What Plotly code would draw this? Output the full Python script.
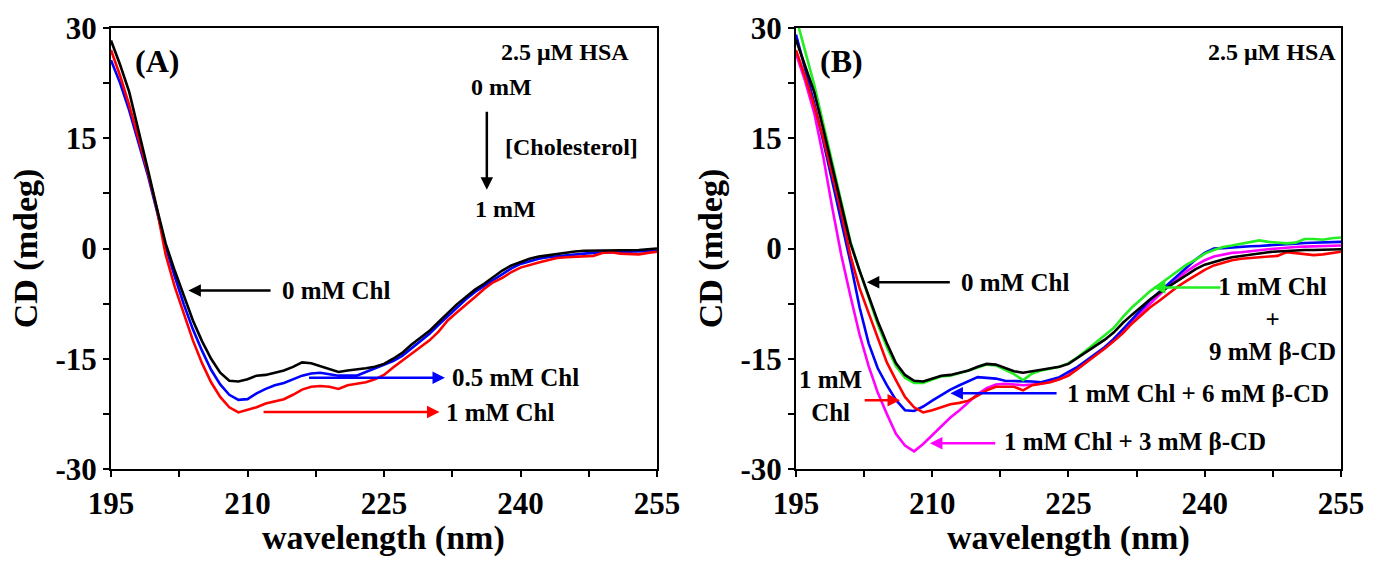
import plotly.graph_objects as go

# ---------------- data ----------------
wavelength = list(range(195, 256))

# Panel A
a_0mM = [28.3, 25.0, 21.3, 16.3, 11.0, 5.7, 0.7, -3.0, -6.5, -9.8,
         -12.6, -15.0, -16.9, -18.0, -18.1, -17.8, -17.3, -17.2, -16.9, -16.6,
         -16.1, -15.5, -15.6, -16.0, -16.5, -16.8, -16.6, -16.5, -16.3, -16.1,
         -15.7, -15.0, -14.2, -13.1, -12.2, -11.2, -10.0, -8.8, -7.6, -6.6,
         -5.6, -4.8, -3.9, -3.0, -2.3, -1.8, -1.4, -1.1, -0.9, -0.75,
         -0.55, -0.4, -0.3, -0.3, -0.3, -0.3, -0.3, -0.3, -0.2, -0.1, 0.0]
a_05mM = [25.6, 22.5, 18.8, 14.5, 10.2, 5.3, 0.3, -3.8, -7.6, -11.0,
          -13.9, -16.5, -18.5, -19.9, -20.6, -20.5, -19.7, -19.1, -18.6, -18.3,
          -17.8, -17.3, -17.0, -16.9, -17.1, -17.3, -17.3, -17.3, -16.8, -16.3,
          -15.9, -15.3, -14.6, -13.6, -12.7, -11.6, -10.4, -9.2, -8.0, -6.9,
          -5.9, -5.1, -4.3, -3.5, -2.7, -2.1, -1.7, -1.4, -1.2, -1.1,
          -0.9, -0.8, -0.7, -0.6, -0.55, -0.5, -0.45, -0.4, -0.35, -0.3, -0.3]
a_1mM = [27.0, 23.5, 19.5, 15.2, 10.6, 5.6, -0.8, -5.2, -9.0, -12.5,
         -15.6, -18.2, -20.2, -21.6, -22.3, -22.0, -21.6, -21.1, -20.8, -20.5,
         -19.9, -19.2, -18.8, -18.7, -18.8, -19.1, -18.6, -18.4, -18.2, -17.8,
         -17.2, -16.2, -15.3, -14.3, -13.5, -12.5, -11.3, -9.8, -8.7, -7.7,
         -6.6, -5.5, -4.6, -4.0, -3.2, -2.6, -2.2, -1.9, -1.6, -1.3,
         -1.2, -1.15, -1.1, -1.0, -0.6, -0.5, -0.7, -0.8, -0.8, -0.6, -0.45]

# Panel B
b_0mM = [28.4, 25.0, 21.3, 16.3, 11.0, 5.7, 0.7, -3.0, -6.6, -9.9,
         -12.9, -15.6, -17.2, -18.0, -18.1, -17.7, -17.3, -17.2, -16.9, -16.6,
         -16.1, -15.7, -15.8, -16.3, -16.7, -16.9, -16.7, -16.5, -16.3, -16.1,
         -15.7, -14.9, -14.1, -13.2, -12.4, -11.4, -10.1, -9.0, -7.9, -6.9,
         -6.0, -5.2, -4.3, -3.6, -2.8, -2.2, -1.8, -1.5, -1.2, -1.0,
         -0.8, -0.6, -0.5, -0.4, -0.3, -0.3, -0.2, -0.2, -0.15, -0.1, -0.1]
b_1mM = [27.0, 23.4, 19.4, 15.0, 10.0, 4.8, -1.0, -5.4, -8.8, -12.3,
         -15.5, -17.9, -20.2, -21.6, -22.3, -22.0, -21.6, -21.2, -21.0, -20.7,
         -20.0, -19.3, -18.8, -18.8, -18.8, -19.3, -18.6, -18.4, -18.2, -17.8,
         -17.3, -16.4, -15.5, -14.6, -13.6, -12.6, -11.5, -10.2, -9.1, -8.0,
         -7.1, -6.1, -5.2, -4.4, -3.6, -2.9, -2.3, -1.9, -1.6, -1.4,
         -1.3, -1.25, -1.2, -1.0, -0.5, -0.6, -0.8, -0.9, -0.8, -0.6, -0.45]
b_1mM_3CD = [26.5, 22.8, 18.5, 12.5, 5.5, -1.0, -6.5, -11.7, -16.0, -19.6,
             -22.5, -25.2, -26.8, -27.6, -26.6, -25.4, -24.2, -23.0, -22.0, -20.9,
             -19.8, -19.0, -18.5, -18.4, -18.5, -18.6, -18.5, -18.4, -18.1, -17.8,
             -17.2, -16.4, -15.4, -14.5, -13.5, -12.3, -11.1, -9.9, -8.6, -7.4,
             -6.2, -5.1, -4.1, -3.1, -2.3, -1.6, -1.1, -0.8, -0.6, -0.5,
             -0.35, -0.25, -0.1, 0.0, 0.15, 0.2, 0.25, 0.3, 0.35, 0.4, 0.4]
b_1mM_6CD = [29.1, 24.6, 19.8, 14.6, 9.0, 3.5, -1.9, -8.0, -12.9, -16.3,
             -18.6, -20.6, -22.0, -22.1, -21.5, -20.7, -19.9, -19.2, -18.6, -18.1,
             -17.5, -17.6, -17.7, -18.0, -18.0, -18.0, -18.1, -18.2, -17.8, -17.5,
             -16.8, -16.1, -15.2, -14.3, -13.4, -12.3, -11.0, -9.7, -8.3, -7.0,
             -5.9, -4.8, -3.8, -2.6, -1.5, -0.6, 0.0, 0.05, 0.1, 0.2,
             0.3, 0.35, 0.45, 0.5, 0.55, 0.65, 0.75, 0.8, 0.85, 0.9, 0.9]
b_1mM_9CD = [31.5, 27.0, 22.3, 17.0, 11.5, 6.0, 0.9, -3.0, -6.8, -10.3,
             -13.4, -16.0, -17.6, -18.3, -18.3, -17.9, -17.4, -17.3, -17.0, -16.6,
             -16.2, -15.8, -15.9, -16.5, -17.1, -17.9, -17.0, -16.6, -16.4, -16.1,
             -15.6, -14.8, -13.8, -12.8, -11.7, -10.8, -9.3, -8.0, -6.9, -5.8,
             -4.9, -4.0, -3.1, -2.2, -1.5, -0.7, -0.2, 0.2, 0.4, 0.6,
             0.9, 1.1, 0.9, 0.75, 0.7, 0.8, 1.3, 1.3, 1.2, 1.4, 1.5]

x_tickvals = [195, 202.5, 210, 217.5, 225, 232.5, 240, 247.5, 255]
x_ticktext = ["195", "", "210", "", "225", "", "240", "", "255"]
y_tickvals = [-30, -22.5, -15, -7.5, 0, 7.5, 15, 22.5, 30]
y_ticktext = ["-30", "", "-15", "", "0", "", "15", "", "30"]

# ---------------- style ----------------
FONT = "Liberation Serif"
BLACK, RED, BLUE, GREEN, MAGENTA = "#000000", "#ff0000", "#0000ff", "#22ee22", "#ff00ff"
LW = 2.6

fig = go.Figure()

def add(x, y, color, xa, ya, name):
    fig.add_trace(go.Scatter(x=x, y=y, mode="lines", name=name,
                             line=dict(color=color, width=LW),
                             xaxis=xa, yaxis=ya, showlegend=False))

# panel A (draw order: blue, red, black)
add(wavelength, a_05mM, BLUE, "x", "y", "0.5 mM Chl")
add(wavelength, a_1mM, RED, "x", "y", "1 mM Chl")
add(wavelength, a_0mM, BLACK, "x", "y", "0 mM Chl")

# panel B
add(wavelength, b_1mM_3CD, MAGENTA, "x2", "y2", "1 mM Chl + 3 mM β-CD")
add(wavelength, b_1mM_6CD, BLUE, "x2", "y2", "1 mM Chl + 6 mM β-CD")
add(wavelength, b_1mM_9CD, GREEN, "x2", "y2", "1 mM Chl + 9 mM β-CD")
add(wavelength, b_1mM, RED, "x2", "y2", "1 mM Chl")
add(wavelength, b_0mM, BLACK, "x2", "y2", "0 mM Chl")

axis_common = dict(showline=True, linecolor="black", linewidth=2, mirror=True,
                   ticks="outside", ticklen=6, tickwidth=2, tickcolor="black",
                   showgrid=False, zeroline=False,
                   tickfont=dict(family=FONT, size=31, color="black", weight="bold"))
xcommon = dict(axis_common, range=[195, 255], tickmode="array",
               tickvals=x_tickvals, ticktext=x_ticktext)
ycommon = dict(axis_common, range=[-30, 30], tickmode="array",
               tickvals=y_tickvals, ticktext=y_ticktext,
               title=dict(text="CD (mdeg)", standoff=8,
                          font=dict(family=FONT, size=34, color="black", weight="bold")))

fig.update_layout(
    width=1377, height=565,
    margin=dict(l=111, r=36, t=28, b=96),
    paper_bgcolor="white", plot_bgcolor="white",
    xaxis=dict(xcommon, domain=[0, 0.4439], anchor="y"),
    yaxis=dict(ycommon, anchor="x"),
    xaxis2=dict(xcommon, domain=[0.5569, 1], anchor="y2"),
    yaxis2=dict(ycommon, anchor="x2"),
)

ann = []

def text(x, y, s, size, xr, yr, xanchor="center", yanchor="middle"):
    ann.append(dict(x=x, y=y, xref=xr, yref=yr, text=s, showarrow=False,
                    xanchor=xanchor, yanchor=yanchor,
                    font=dict(family=FONT, size=size, color="black", weight="bold")))

def arrow(x_tip, y_tip, x_tail, y_tail, color, xr, yr):
    ann.append(dict(x=x_tip, y=y_tip, ax=x_tail, ay=y_tail, xref=xr, yref=yr,
                    axref=xr, ayref=yr, text="", showarrow=True,
                    arrowhead=2, arrowsize=1.0, arrowwidth=2.5, arrowcolor=color,
                    standoff=0, startstandoff=0))

# x-axis titles (placed just under the tick labels)
text(0.5, -0.108, "wavelength (nm)", 34, "x domain", "paper", yanchor="top")
text(0.5, -0.108, "wavelength (nm)", 34, "x2 domain", "paper", yanchor="top")

# panel A annotations
text(200.0, 25.5, "(A)", 32, "x", "y")
text(244.9, 26.7, "2.5 μM HSA", 24, "x", "y")
text(237.9, 22.0, "0 mM", 24, "x", "y")
arrow(236.3, 8.0, 236.3, 18.8, BLACK, "x", "y")
text(238.1, 13.8, "[Cholesterol]", 24, "x", "y", "left")
text(238.4, 5.4, "1 mM", 24, "x", "y")
arrow(203.5, -5.7, 212.7, -5.7, BLACK, "x", "y")
text(213.6, -5.7, "0 mM Chl", 25, "x", "y", "left")
arrow(231.7, -17.6, 216.6, -17.6, BLUE, "x", "y")
text(232.2, -17.6, "0.5 mM Chl", 25, "x", "y", "left")
arrow(231.1, -22.25, 211.6, -22.25, RED, "x", "y")
text(231.6, -22.25, "1 mM Chl", 25, "x", "y", "left")

# panel B annotations
text(200.0, 25.5, "(B)", 32, "x2", "y2")
text(247.4, 26.7, "2.5 μM HSA", 24, "x2", "y2")
arrow(202.8, -4.6, 212.1, -4.6, BLACK, "x2", "y2")
text(213.0, -4.6, "0 mM Chl", 25, "x2", "y2", "left")
arrow(234.3, -5.3, 241.9, -5.3, GREEN, "x2", "y2")
text(247.5, -9.6, "1 mM Chl<br>+<br>9 mM β-CD", 25, "x2", "y2")
arrow(212.0, -19.7, 223.85, -19.7, BLUE, "x2", "y2")
text(224.6, -19.7, "1 mM Chl + 6 mM β-CD", 25, "x2", "y2", "left")
arrow(209.75, -26.5, 217.1, -26.5, MAGENTA, "x2", "y2")
text(217.7, -26.3, "1 mM Chl + 3 mM β-CD", 25, "x2", "y2", "left")
text(198.85, -20.1, "1 mM<br>Chl", 25, "x2", "y2")
arrow(206.45, -20.65, 202.4, -20.65, RED, "x2", "y2")

fig.update_layout(annotations=ann)
fig.write_html("out.html")
